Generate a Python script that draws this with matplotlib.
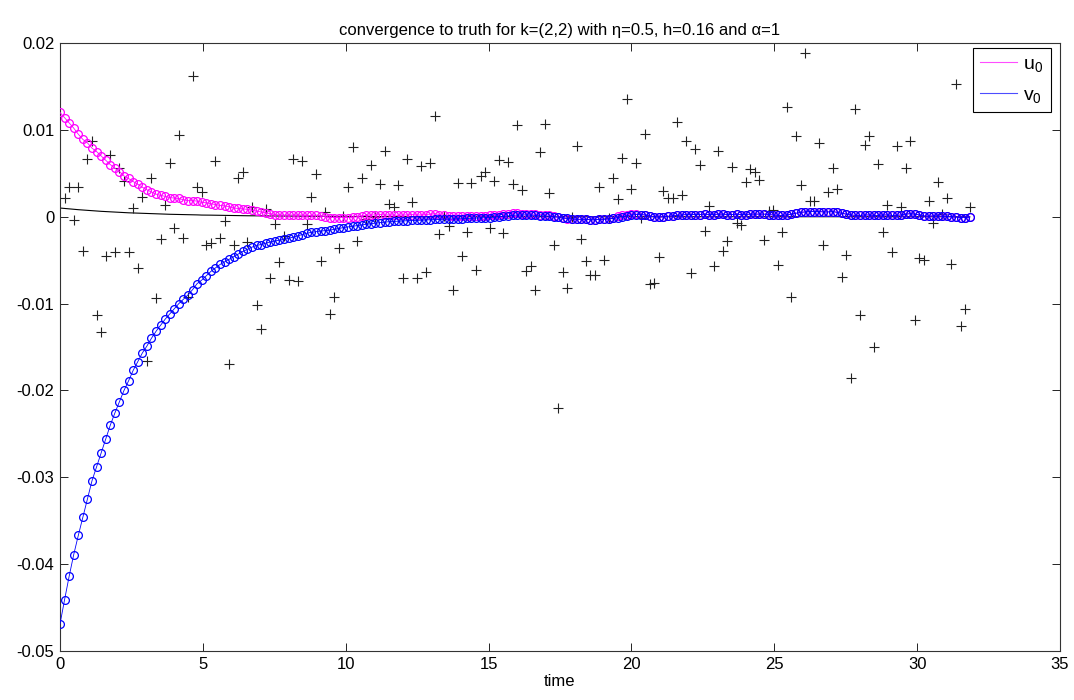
import numpy as np
import matplotlib
matplotlib.use("Agg")
import matplotlib.pyplot as plt
from matplotlib.lines import Line2D

plt.rcParams['font.family'] = ['Liberation Sans', 'DejaVu Sans']
plt.rcParams['mathtext.fontset'] = 'custom'
plt.rcParams['mathtext.rm'] = 'Liberation Sans'
plt.rcParams['mathtext.it'] = 'Liberation Sans'

h = 0.16
n_steps = 200

# estimated u0 (x 1e-3), k = 0..199
u0_milli = [
    12.0, 11.4, 10.8, 10.2, 9.5, 8.9, 8.5, 7.9, 7.5, 7.0,
    6.5, 6.0, 5.6, 5.2, 4.7, 4.4, 4.05, 3.75, 3.4, 3.1,
    2.85, 2.6, 2.45, 2.35, 2.2, 2.15, 2.1, 1.95, 1.85, 1.85,
    1.8, 1.65, 1.6, 1.5, 1.4, 1.3, 1.25, 1.15, 1.0, 0.95,
    0.9, 0.85, 0.75, 0.65, 0.55, 0.45, 0.35, 0.25, 0.2, 0.2,
    0.2, 0.2, 0.2, 0.2, 0.15, 0.15, 0.2, 0.1, 0.0, -0.1,
    -0.1, -0.1, -0.1, -0.1, -0.05, 0.0, 0.1, 0.15, 0.2, 0.2,
    0.25, 0.2, 0.2, 0.2, 0.15, 0.2, 0.2, 0.25, 0.2, 0.2,
    0.25, 0.3, 0.35, 0.25, 0.15, 0.1, 0.1, 0.1, 0.1, 0.1,
    0.1, 0.1, 0.1, 0.1, 0.15, 0.2, 0.25, 0.3, 0.35, 0.4,
    0.4, 0.35, 0.3, 0.3, 0.27, 0.25, 0.25, 0.2, 0.1, 0.0,
    -0.15, -0.25, -0.3, -0.3, -0.3, -0.3, -0.35, -0.35, -0.3, -0.3,
    -0.25, -0.1, 0.05, 0.15, 0.25, 0.3, 0.3, 0.25, 0.2, 0.1,
    0.0, -0.05, 0.0, 0.05, 0.1, 0.15, 0.2, 0.25, 0.25, 0.25,
    0.25, 0.3, 0.25, 0.25, 0.3, 0.3, 0.25, 0.25, 0.3, 0.25,
    0.25, 0.3, 0.3, 0.3, 0.3, 0.25, 0.2, 0.15, 0.15, 0.2,
    0.3, 0.4, 0.5, 0.55, 0.6, 0.6, 0.6, 0.55, 0.55, 0.6,
    0.5, 0.4, 0.3, 0.2, 0.15, 0.15, 0.2, 0.2, 0.15, 0.15,
    0.2, 0.2, 0.15, 0.15, 0.2, 0.3, 0.35, 0.3, 0.2, 0.1,
    0.05, 0.1, 0.1, 0.05, 0.05, 0.0, -0.05, -0.1, -0.1, -0.05,
]

# estimated v0 (x 1e-3), k = 0..199
v0_milli = [
    -46.9, -44.1, -41.4, -38.9, -36.7, -34.6, -32.5, -30.4, -28.8, -27.2,
    -25.6, -24.0, -22.6, -21.3, -20.0, -18.9, -17.7, -16.7, -15.7, -14.9,
    -14.0, -13.2, -12.5, -11.8, -11.2, -10.6, -10.0, -9.5, -9.0, -8.4,
    -7.7, -7.3, -6.8, -6.3, -5.9, -5.5, -5.2, -4.9, -4.6, -4.3,
    -4.0, -3.75, -3.5, -3.3, -3.2, -3.05, -2.9, -2.8, -2.7, -2.6,
    -2.5, -2.35, -2.2, -2.05, -1.9, -1.8, -1.72, -1.65, -1.6, -1.55,
    -1.45, -1.35, -1.25, -1.18, -1.1, -1.02, -0.95, -0.87, -0.8, -0.74,
    -0.68, -0.62, -0.57, -0.54, -0.5, -0.47, -0.45, -0.43, -0.42, -0.4,
    -0.38, -0.35, -0.32, -0.3, -0.29, -0.27, -0.25, -0.24, -0.23, -0.2,
    -0.18, -0.15, -0.13, -0.11, -0.1, -0.05, 0.0, 0.05, 0.1, 0.15,
    0.2, 0.2, 0.2, 0.18, 0.15, 0.1, 0.1, 0.05, 0.0, -0.05,
    -0.15, -0.2, -0.25, -0.3, -0.3, -0.3, -0.35, -0.35, -0.3, -0.3,
    -0.25, -0.2, -0.1, 0.0, 0.1, 0.2, 0.25, 0.25, 0.2, 0.1,
    0.0, -0.05, 0.0, 0.05, 0.1, 0.15, 0.2, 0.25, 0.25, 0.25,
    0.25, 0.3, 0.25, 0.25, 0.3, 0.3, 0.25, 0.25, 0.3, 0.25,
    0.25, 0.3, 0.3, 0.3, 0.3, 0.25, 0.2, 0.15, 0.15, 0.2,
    0.3, 0.4, 0.5, 0.55, 0.6, 0.6, 0.6, 0.55, 0.55, 0.6,
    0.5, 0.4, 0.3, 0.2, 0.15, 0.15, 0.2, 0.2, 0.15, 0.15,
    0.2, 0.2, 0.15, 0.15, 0.2, 0.3, 0.35, 0.3, 0.2, 0.1,
    0.05, 0.1, 0.1, 0.05, 0.05, 0.0, -0.05, -0.1, -0.1, -0.05,
]

# truth (x 1e-3), k = 0..199
truth_milli = [
    1.00, 0.95, 0.90, 0.85, 0.81, 0.77, 0.73, 0.69, 0.66, 0.62,
    0.59, 0.56, 0.53, 0.50, 0.48, 0.45, 0.43, 0.41, 0.39, 0.37,
    0.35, 0.33, 0.31, 0.30, 0.28, 0.27, 0.25, 0.24, 0.23, 0.22,
    0.21, 0.19, 0.19, 0.18, 0.17, 0.16, 0.15, 0.14, 0.13, 0.13,
    0.12, 0.11, 0.11, 0.10, 0.10, 0.09, 0.09, 0.08, 0.08, 0.07,
    0.07, 0.07, 0.06, 0.06, 0.06, 0.05, 0.05, 0.05, 0.04, 0.04,
    0.04, 0.03, 0.03, 0.03, 0.02, 0.02, 0.02, 0.02, 0.02, 0.01,
    0.01, 0.01, 0.01, 0.01, 0.01, 0.01, 0.0, 0.0, 0.0, 0.0,
    0.0, 0.0, 0.0, 0.0, 0.0, 0.0, 0.0, 0.0, 0.0, 0.0,
    0.0, 0.0, 0.0, 0.0, 0.0, 0.0, 0.0, 0.0, 0.0, 0.0,
    0.0, 0.0, 0.0, 0.0, 0.0, 0.0, 0.0, 0.0, 0.0, 0.0,
    0.0, 0.0, 0.0, 0.0, 0.0, 0.0, 0.0, 0.0, 0.0, 0.0,
    0.0, 0.0, 0.0, 0.0, 0.0, 0.0, 0.0, 0.0, 0.0, 0.0,
    0.0, 0.0, 0.0, 0.0, 0.0, 0.0, 0.0, 0.0, 0.0, 0.0,
    0.0, 0.0, 0.0, 0.0, 0.0, 0.0, 0.0, 0.0, 0.0, 0.0,
    0.0, 0.0, 0.0, 0.0, 0.0, 0.0, 0.0, 0.0, 0.0, 0.0,
    0.0, 0.0, 0.0, 0.0, 0.0, 0.0, 0.0, 0.0, 0.0, 0.0,
    0.0, 0.0, 0.0, 0.0, 0.0, 0.0, 0.0, 0.0, 0.0, 0.0,
    0.0, 0.0, 0.0, 0.0, 0.0, 0.0, 0.0, 0.0, 0.0, 0.0,
    0.0, 0.0, 0.0, 0.0, 0.0, 0.0, 0.0, 0.0, 0.0, 0.0,
]

# noisy observations (x 1e-3), k = 1..199
obs_milli = [
    2.2, 3.4, -0.4, 3.4, -3.9, 6.6, 8.7, -11.3, -13.3, -4.5,
    7.1, -4.1, 5.6, 4.1, -4.1, 1.0, -5.9, 2.3, -16.6, 4.5,
    -9.4, -2.6, 1.3, 6.2, -1.25, 9.4, -2.4, -9.2, 16.2, 3.4,
    2.9, -3.3, -3.0, 6.4, -2.4, -0.5, -16.9, -3.3, 4.4, 5.1,
    -2.9, 1.1, -10.2, -12.9, 0.9, -7.1, -0.8, -5.2, -2.2, -7.3,
    6.6, -7.4, 6.4, -0.8, 2.3, 4.9, -5.1, 0.5, -11.2, -9.2,
    -3.6, 0.1, 3.4, 8.0, -2.8, 4.4, -0.3, 6.0, 0.0, 3.8,
    7.6, 1.5, 1.1, 3.6, -7.0, 6.7, 1.7, -7.0, 5.8, -6.4,
    6.2, 11.6, -2.0, 0.1, -1.1, -8.4, 3.9, -4.5, -1.8, 3.9,
    -6.1, 4.7, 5.1, -1.25, 4.1, 6.5, -1.9, 6.3, 3.8, 10.6,
    3.1, -6.25, -5.7, -8.4, 7.5, 10.7, 2.7, -3.2, -22.0, -6.4,
    -8.2, 0.0, 8.1, -2.6, -5.1, -6.7, -6.7, 3.4, -5.0, -0.1,
    4.5, 2.0, 6.8, 13.5, 3.2, 6.2, -0.1, 9.5, -7.7, -7.6,
    -4.6, 3.0, 2.2, 2.1, 10.9, 2.5, 8.7, -6.5, 7.8, 5.9,
    -1.6, 1.2, -5.7, 7.6, -4.0, -2.8, 5.7, -0.7, -0.9, 4.0,
    5.5, 5.1, 4.2, -2.7, 0.7, 0.8, -5.6, -1.8, 12.6, -9.3,
    9.3, 3.7, 18.8, 1.8, 1.8, 8.5, -3.3, 2.8, 5.6, 3.2,
    -6.9, -4.4, -18.6, 12.4, -11.3, 8.2, 9.3, -15.0, 6.1, -1.8,
    1.3, -4.1, 8.1, 1.1, 5.6, 8.7, -11.9, -4.8, -5.0, 1.8,
    -0.7, 4.0, 0.3, 2.2, -5.4, 15.3, -12.6, -10.6, 1.1,
]

x_ticks = [0, 5, 10, 15, 20, 25, 30, 35]
y_ticks = [-0.05, -0.04, -0.03, -0.02, -0.01, 0.0, 0.01, 0.02]
y_tick_labels = ['-0.05', '-0.04', '-0.03', '-0.02', '-0.01', '0', '0.01', '0.02']
title_text = 'convergence to truth for k=(2,2) with \u03b7=0.5, h=0.16 and \u03b1=1'
legend_labels = ['u$_0$', 'v$_0$']

t = h * np.arange(n_steps)
t_obs = h * np.arange(1, n_steps)
u0 = np.array(u0_milli) * 1e-3
v0 = np.array(v0_milli) * 1e-3
truth = np.array(truth_milli) * 1e-3
obs = np.array(obs_milli) * 1e-3

fig = plt.figure(figsize=(10.74, 7.0), dpi=100)
ax = fig.add_axes([60 / 1074, 1 - 651 / 700, 1000 / 1074, 608 / 700])

ax.plot(t, truth, color='black', lw=0.8, zorder=2)
ax.plot(t_obs, obs, linestyle='none', marker='+', color='#222222',
        ms=7, mew=0.8, zorder=3)
ax.plot(t, u0, color=(1, 0, 1), lw=0.6, marker='o', mfc='none',
        mec=(1, 0, 1), ms=5.6, mew=0.9, zorder=4)
ax.plot(t, v0, color=(0, 0, 1), lw=0.6, marker='o', mfc='none',
        mec=(0, 0, 1), ms=5.6, mew=0.9, zorder=5)

ax.set_xlim(0, 35)
ax.set_ylim(-0.05, 0.02)
ax.set_xticks(x_ticks)
ax.set_xticklabels([str(v) for v in x_ticks])
ax.set_yticks(y_ticks)
ax.set_yticklabels(y_tick_labels)
ax.tick_params(direction='in', length=6, width=0.6, labelsize=12,
               top=True, right=True, pad=4)
for sp in ax.spines.values():
    sp.set_linewidth(0.8)
    sp.set_color('#333333')

ax.set_title(title_text, fontsize=12, pad=6)
ax.set_xlabel('time', fontsize=12, labelpad=2)

handles = [Line2D([], [], color=(1, 0.3, 1), lw=0.8),
           Line2D([], [], color=(0.3, 0.3, 1), lw=0.8)]
leg = ax.legend(handles, legend_labels, loc='upper right',
                bbox_to_anchor=(0.991, 0.992), borderaxespad=0,
                fontsize=14, handlelength=1.9, handletextpad=0.3,
                labelspacing=0.6, fancybox=False, framealpha=1,
                edgecolor='black', borderpad=0.4)
leg.get_frame().set_linewidth(0.8)

fig.savefig('out.png', dpi=100)
